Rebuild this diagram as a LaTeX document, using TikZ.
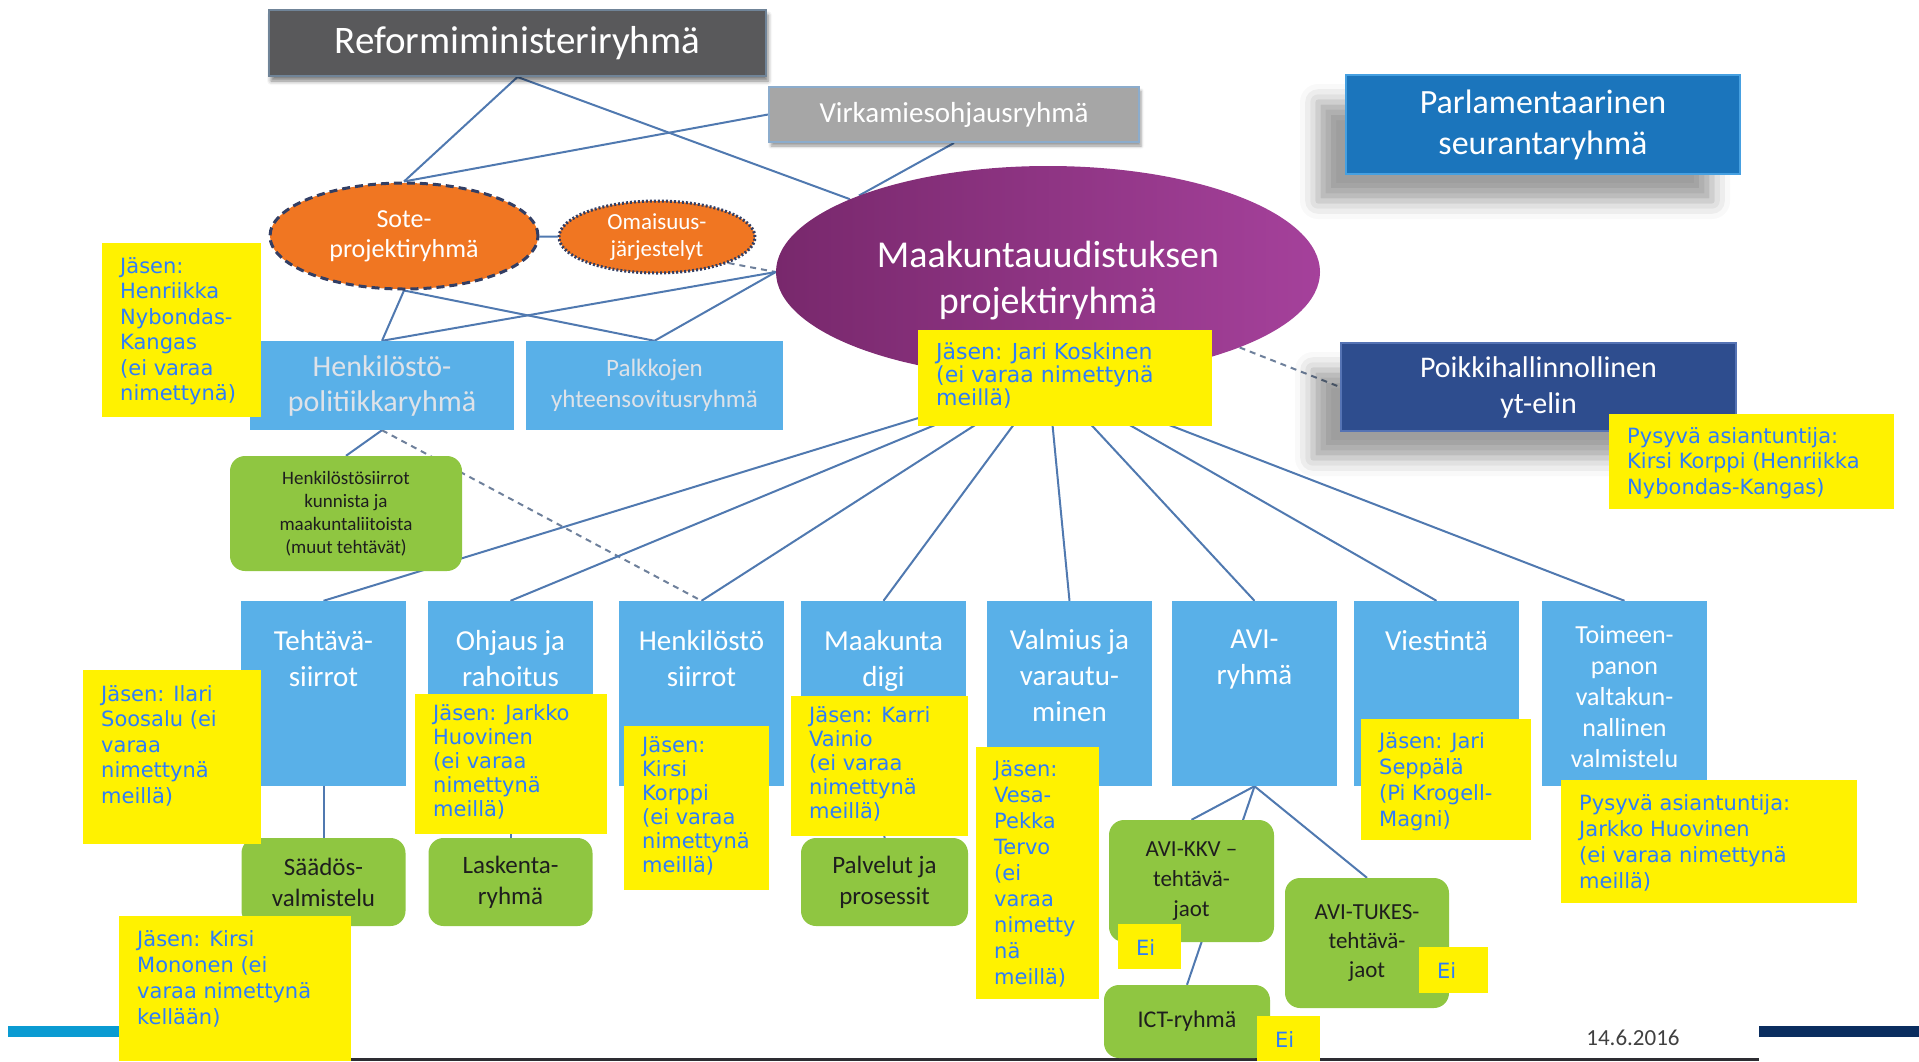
\documentclass[tikz,border=0pt]{standalone}
\usepackage{fontspec}
\setmainfont{Carlito}
\newfontfamily\notefont{DejaVu Sans}
\usetikzlibrary{shapes.geometric,% ellipse nodes
shadows.blur}%                     soft shadows behind the side boxes

\definecolor{refgray}{RGB}{89,89,91}
\definecolor{refedge}{RGB}{112,132,152}
\definecolor{virkgray}{RGB}{166,166,166}
\definecolor{virkedge}{RGB}{140,172,204}
\definecolor{parlblue}{RGB}{27,117,188}
\definecolor{parledge}{RGB}{70,160,225}
\definecolor{poikblue}{RGB}{46,77,142}
\definecolor{poikedge}{RGB}{85,115,180}
\definecolor{soteorange}{RGB}{240,118,34}
\definecolor{soteedge}{RGB}{50,62,100}
\definecolor{maakleft}{RGB}{120,40,108}
\definecolor{maakright}{RGB}{165,65,155}
\definecolor{boxblue}{RGB}{89,176,232}
\definecolor{boxgreen}{RGB}{143,198,65}
\definecolor{linkblue}{RGB}{80,121,176}
\definecolor{dashgray}{RGB}{110,128,155}
\definecolor{noteblue}{RGB}{45,125,250}
\definecolor{darktext}{RGB}{30,30,30}
\definecolor{paletext}{RGB}{222,226,232}
\definecolor{barblue}{RGB}{10,155,210}
\definecolor{barnavy}{RGB}{10,45,95}
\definecolor{bottomdark}{RGB}{45,45,50}

\pgfdeclarelayer{bg}
\pgfsetlayers{bg,main}

% text set from the top of a fixed box
\newcommand{\toptext}[2]{\parbox[t][185pt][t]{165pt}{\centering\rule{0pt}{#1}#2}}
\newcommand{\notetext}[4][30pt]{\parbox[t][#3][t]{#2}{\leftskip=18pt\rule{0pt}{#1}#4}}

\tikzset{every node/.style={inner sep=0pt},
  link/.style={draw=linkblue, line width=2pt},
  dlink/.style={draw=dashgray, line width=2pt, dash pattern=on 6pt off 5pt},
  refbox/.style={rectangle, fill=refgray, draw=refedge, line width=2pt, text=white,
    font=\fontsize{39pt}{47pt}\selectfont,
    blur shadow={shadow xshift=2pt, shadow yshift=-5pt, shadow blur radius=4pt, shadow opacity=50}},
  virkbox/.style={rectangle, fill=virkgray, draw=virkedge, line width=2pt, text=white,
    font=\fontsize{29pt}{35pt}\selectfont,
    blur shadow={shadow xshift=2pt, shadow yshift=-4pt, shadow blur radius=3pt, shadow opacity=40}},
  sidebox/.style={rectangle, line width=2pt, text=white, align=center,
    blur shadow={shadow xshift=-28pt, shadow yshift=-27pt, shadow blur radius=18pt, shadow opacity=38}},
  sotebox/.style={ellipse, fill=soteorange, draw=soteedge, line width=3pt,
    dash pattern=on 8pt off 5pt, text=white, align=center},
  maakbox/.style={ellipse, left color=maakleft, right color=maakright, text=white, align=center,
    font=\fontsize{38pt}{46pt}\selectfont},
  palebox/.style={rectangle, fill=boxblue, text=paletext, align=center},
  bluebox/.style={rectangle, fill=boxblue, text=white, font=\fontsize{29pt}{36pt}\selectfont},
  greenbox/.style={rectangle, rounded corners=15pt, fill=boxgreen, text=darktext, align=center,
    font=\fontsize{25pt}{31pt}\selectfont},
  note/.style={rectangle, anchor=north west, fill=yellow, text=noteblue,
    font=\notefont\fontsize{21pt}{25.5pt}\selectfont}}

\begin{document}
\begin{tikzpicture}[x=1pt, y=-1pt]
    \useasboundingbox (0,0) rectangle (1919,1061);
    % strips along the foot of the slide
    \fill[barblue] (8,1026) rectangle (351,1037);
    \fill[barnavy] (1759,1026) rectangle (1919,1037);
    \fill[bottomdark] (351,1058) rectangle (1759,1061);
    % steering groups
    \node[refbox, minimum width=497pt, minimum height=66pt] (ref) at (517.5,43) {Reformiministeriryhmä};
    \node[virkbox, minimum width=370pt, minimum height=55pt] (virk) at (954,114.5) {Virkamiesohjausryhmä};
    \node[sidebox, fill=parlblue, draw=parledge, minimum width=394pt, minimum height=99pt,
      font=\fontsize{34pt}{41pt}\selectfont] (parl) at (1543,124.5) {Parlamentaarinen\\seurantaryhmä};
    \node[sidebox, fill=poikblue, draw=poikedge, minimum width=395pt, minimum height=88pt,
      font=\fontsize{30pt}{36pt}\selectfont] (poik) at (1538.5,387) {Poikkihallinnollinen\\yt-elin};
    % project groups
    \node[sotebox, minimum width=268pt, minimum height=106pt,
      font=\fontsize{26pt}{30pt}\selectfont] (sote) at (404,236) {Sote-\\projektiryhmä};
    \node[sotebox, dash pattern=on 2pt off 2pt, minimum width=196pt, minimum height=72pt,
      font=\fontsize{23pt}{27pt}\selectfont] (omai) at (657,237) {Omaisuus-\\järjestelyt};
    \node[maakbox, minimum width=544pt, minimum height=212pt] (maak) at (1048,272)
      {\parbox{360pt}{\centering\vspace*{18pt}Maakuntauudistuksen\\projektiryhmä}};
    \node[palebox, minimum width=264pt, minimum height=89pt,
      font=\fontsize{30pt}{35pt}\selectfont] (hpol) at (382,385.5) {Henkilöstö-\\politiikkaryhmä};
    \node[palebox, minimum width=257pt, minimum height=89pt,
      font=\fontsize{25pt}{31pt}\selectfont] (palk) at (654.5,385.5) {Palkkojen\\yhteensovitusryhmä};
    \node[greenbox, minimum width=232pt, minimum height=115pt,
      font=\fontsize{19pt}{23pt}\selectfont] (hsiir) at (346,513.5) {Henkilöstösiirrot\\kunnista ja\\maakuntaliitoista\\(muut tehtävät)};
    % sub-projects
    \node[bluebox] (teht) at (323.5,693.5) {\toptext{49pt}{Tehtävä-\\siirrot}};
    \node[bluebox] (ohj) at (510.5,693.5) {\toptext{49pt}{Ohjaus ja\\rahoitus}};
    \node[bluebox] (hsi) at (701.5,693.5) {\toptext{49pt}{Henkilöstö\\siirrot}};
    \node[bluebox] (mdig) at (883.5,693.5) {\toptext{49pt}{Maakunta\\digi}};
    \node[bluebox] (valm) at (1069.5,693.5) {\toptext{48pt}{Valmius ja\\varautu-\\minen}};
    \node[bluebox] (avi) at (1254.5,693.5) {\toptext{47pt}{AVI-\\ryhmä}};
    \node[bluebox] (vies) at (1436.5,693.5) {\toptext{49pt}{Viestintä}};
    \node[bluebox, font=\fontsize{26pt}{31pt}\selectfont] (toim) at (1624.5,693.5) {\toptext{42pt}{Toimeen-\\panon\\valtakun-\\nallinen\\valmistelu}};
    \node[greenbox, minimum width=164pt, minimum height=88pt] (saad) at (323.5,882) {Säädös-\\valmistelu};
    \node[greenbox, minimum width=164pt, minimum height=88pt] (lask) at (510.5,882) {Laskenta-\\ryhmä};
    \node[greenbox, minimum width=167pt, minimum height=88pt] (palv) at (884.5,882) {Palvelut ja\\prosessit};
    \node[greenbox, minimum width=165pt, minimum height=122pt,
      font=\fontsize{23pt}{30pt}\selectfont] (kkv) at (1191.5,881) {AVI-KKV --\\tehtävä-\\jaot};
    \node[greenbox, minimum width=164pt, minimum height=130pt,
      font=\fontsize{23pt}{29pt}\selectfont] (tukes) at (1367,943) {AVI-TUKES-\\tehtävä-\\jaot};
    \node[greenbox, minimum width=166pt, minimum height=73pt,
      font=\fontsize{24pt}{29pt}\selectfont] (ict) at (1187,1021.5) {ICT-ryhmä};
    \node[text=darktext!85, anchor=base, font=\fontsize{23pt}{27pt}\selectfont] (date) at (1633,1045) {14.6.2016};
    % connectors
    \begin{pgfonlayer}{bg}
      \draw[link] (ref.south) -- (sote.north);
      \draw[link] (ref.south) -- (maak);
      \draw[link] (virk.west) -- (sote.north);
      \draw[link] (virk.south) -- (maak.158);
      \draw[link] (sote) -- (omai);
      \draw[dlink] (omai.-20) -- (maak.west);
      \draw[link] (sote.south) -- (hpol.north);
      \draw[link] (sote.south) -- (palk.north);
      \draw[link] (hpol.north) -- (maak.west);
      \draw[link] (palk.north) -- (maak.west);
      \draw[dlink] (maak) -- (poik.west);
      \draw[link] (hpol.south) -- (hsiir.north);
      \draw[dlink] (hpol.south) -- (hsi.north);
      \foreach \t in {teht,ohj,hsi,mdig,valm,avi,vies,toim}
        \draw[link] (maak.south) -- (\t.north);
      \draw[link] (teht.south) -- (saad.north);
      \draw[link] (ohj.south) -- (lask.north);
      \draw[link] (mdig.south) -- (palv.north);
      \draw[link] (avi.south) -- (kkv.north);
      \draw[link] (avi.south) -- (tukes.north);
      \draw[link] (avi.south) -- (ict.north);
    \end{pgfonlayer}
    % members
    \node[note] (n1) at (102,243) {\notetext{159pt}{174pt}{Jäsen:\\Henriikka\\Nybondas-\\Kangas\\(ei varaa\\nimettynä)}};
    \node[note, font=\notefont\fontsize{22pt}{23pt}\selectfont] (n2) at (918,330) {\notetext[29pt]{294pt}{96pt}{Jäsen: Jari Koskinen\\(ei varaa nimettynä\\meillä)}};
    \node[note] (n3) at (1609,414) {\notetext[29pt]{285pt}{95pt}{Pysyvä asiantuntija:\\Kirsi Korppi (Henriikka\\Nybondas-Kangas)}};
    \node[note] (n4) at (83,670) {\notetext[31pt]{178pt}{174pt}{Jäsen: Ilari\\Soosalu (ei\\varaa\\nimettynä\\meillä)}};
    \node[note, font=\notefont\fontsize{21pt}{24pt}\selectfont] (n5) at (415,694) {\notetext[26pt]{192pt}{140pt}{Jäsen: Jarkko\\Huovinen\\(ei varaa\\nimettynä\\meillä)}};
    \node[note, font=\notefont\fontsize{21pt}{24pt}\selectfont] (n6) at (624,726) {\notetext[26pt]{145pt}{164pt}{Jäsen:\\Kirsi\\Korppi\\(ei varaa\\nimettynä\\meillä)}};
    \node[note, font=\notefont\fontsize{21pt}{24pt}\selectfont] (n7) at (791,696) {\notetext[26pt]{177pt}{140pt}{Jäsen: Karri\\Vainio\\(ei varaa\\nimettynä\\meillä)}};
    \node[note, font=\notefont\fontsize{21pt}{26pt}\selectfont] (n8) at (976,747) {\notetext[29pt]{123pt}{252pt}{Jäsen:\\Vesa-\\Pekka\\Tervo\\(ei\\varaa\\nimetty\\nä\\meillä)}};
    \node[note, font=\notefont\fontsize{21pt}{26pt}\selectfont] (n9) at (1361,719) {\notetext[29pt]{170pt}{121pt}{Jäsen: Jari\\Seppälä\\(Pi Krogell-\\Magni)}};
    \node[note, font=\notefont\fontsize{21pt}{26pt}\selectfont] (n10) at (1561,780) {\notetext[30pt]{296pt}{123pt}{Pysyvä asiantuntija:\\Jarkko Huovinen\\(ei varaa nimettynä\\meillä)}};
    \node[note, font=\notefont\fontsize{21pt}{26pt}\selectfont] (n11) at (119,916) {\notetext[30pt]{232pt}{145pt}{Jäsen: Kirsi\\Mononen (ei\\varaa nimettynä\\kellään)}};
    \node[note] (n12) at (1118,924) {\notetext[31pt]{63pt}{45pt}{Ei}};
    \node[note] (n13) at (1419,947) {\notetext[31pt]{69pt}{46pt}{Ei}};
    \node[note] (n14) at (1257,1016) {\notetext[31pt]{63pt}{45pt}{Ei}};
\end{tikzpicture}
\end{document}
